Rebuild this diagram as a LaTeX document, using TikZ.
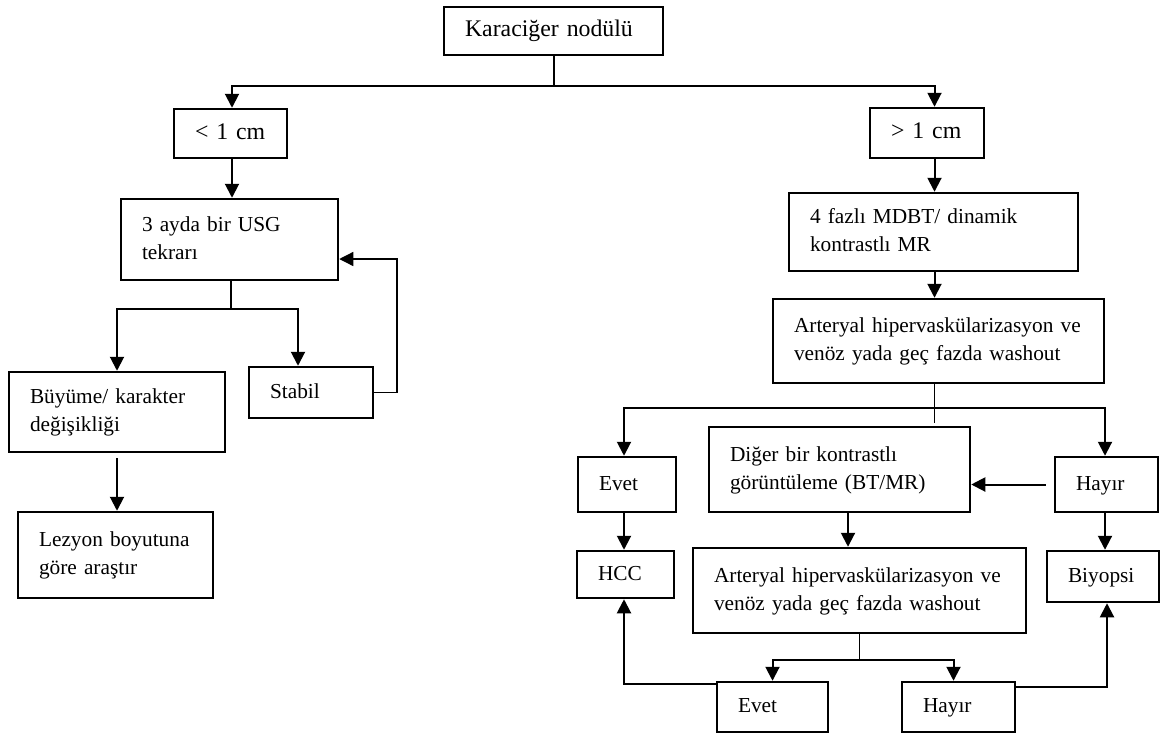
\documentclass[tikz,border=0pt]{standalone}
\usepackage{fontspec}
\setmainfont{Liberation Serif}
\usetikzlibrary{arrows.meta,positioning,calc}
\newdimen\pxu
\pxu=0.75pt
\tikzset{
	box/.style={draw, rectangle, line width=2.5\pxu, inner xsep=21\pxu, inner ysep=0pt,
		align=left, font=\fontsize{16pt}{21pt}\selectfont,
		execute at begin node=\strut, execute at end node=\strut},
	bigbox/.style={box, font=\fontsize{17.85pt}{21pt}\selectfont},
	arr/.style={-{Triangle[width=10.5pt,length=10.5pt]}, line width=2\pxu},
	link/.style={line width=1.3\pxu}
}

\begin{document}
\begin{tikzpicture}[x=0.75pt,y=-0.75pt]
	\useasboundingbox (0,0) rectangle (1162,736);
	\node[bigbox, text width=177\pxu, minimum height=48\pxu] (nodul) at (553.5,31) {Karaciğer nodülü};
	\node[bigbox, text width=71\pxu, minimum height=49\pxu] (kucuk) at (230.5,133.5) {< 1 cm};
	\node[bigbox, text width=72\pxu, minimum height=50\pxu] (buyuk) at (927,133) {> 1 cm};
	\node[box, text width=175\pxu, minimum height=81\pxu] (usg) at (229.5,239.5) {3 ayda bir USG\\tekrarı};
	\node[box, text width=174\pxu, minimum height=80\pxu] (buyume) at (117,412) {Büyüme/ karakter\\değişikliği};
	\node[box, text width=82\pxu, minimum height=51\pxu] (stabil) at (311,392.5) {Stabil};
	\node[box, text width=153\pxu, minimum height=86\pxu] (lezyon) at (115.5,555) {Lezyon boyutuna\\göre araştır};
	\node[box, text width=247\pxu, minimum height=78\pxu] (mdbt) at (933.5,232) {4 fazlı MDBT/ dinamik\\kontrastlı MR};
	\node[box, text width=289\pxu, minimum height=84\pxu] (art1) at (938.5,341) {Arteryal hipervaskülarizasyon ve\\venöz yada geç fazda washout};
	\node[box, text width=56\pxu, minimum height=55\pxu] (evet1) at (627,484.5) {Evet};
	\node[box, text width=219\pxu, minimum height=85\pxu] (diger) at (839.5,469.5) {Diğer bir kontrastlı\\görüntüleme (BT/MR)};
	\node[box, text width=61\pxu, minimum height=55\pxu] (hayir1) at (1106.5,484.5) {Hayır};
	\node[box, text width=55\pxu, minimum height=47\pxu] (hcc) at (625.5,574.5) {HCC};
	\node[box, text width=291\pxu, minimum height=85\pxu] (art2) at (859.5,590.5) {Arteryal hipervaskülarizasyon ve\\venöz yada geç fazda washout};
	\node[box, text width=70\pxu, minimum height=51\pxu] (biyopsi) at (1103,576.5) {Biyopsi};
	\node[box, text width=69\pxu, minimum height=50\pxu] (evet2) at (772.5,707) {Evet};
	\node[box, text width=71\pxu, minimum height=50\pxu] (hayir2) at (958.5,707) {Hayır};

	\coordinate (axL) at (232,0);
	\coordinate (axR) at (934.5,0);
	\coordinate (axE) at (624,0);
	\coordinate (axH) at (1105,0);
	\coordinate (axD) at (848,0);
	\coordinate (split0) at (554,86);
	\coordinate (split1) at (231,309);
	\coordinate (split2) at (934.5,408);
	\coordinate (split3) at (859.5,660);
	\coordinate (stub) at (934.5,423);
	\coordinate (loop) at (397,259);

	\draw[link] (nodul.south -| split0) -- (split0);
	\draw[arr] (split0) -| (kucuk.north -| axL);
	\draw[arr] (split0) -| (buyuk.north -| axR);
	\draw[arr] (kucuk.south -| axL) -- (usg.north -| axL);
	\draw[arr] (buyuk.south -| axR) -- (mdbt.north -| axR);
	\draw[arr] (mdbt.south -| axR) -- (art1.north -| axR);

	\draw[link] (usg.south -| split1) -- (split1);
	\draw[arr] (split1) -| (buyume.north);
	\draw[arr] (split1) -| ([xshift=-13\pxu]stabil.north);
	\draw[arr, line width=1.3\pxu] (stabil.east) -| (loop) -- (usg.east |- loop);
	\draw[arr] ([yshift=-5\pxu]buyume.south) -- (lezyon.north -| buyume.south);

	\draw[link] (art1.south -| axR) -- (stub);
	\draw[arr] (split2) -| (evet1.north -| axE);
	\draw[arr] (split2) -| (hayir1.north -| axH);
	\draw[arr] (evet1.south -| axE) -- (hcc.north -| axE);
	\draw[arr] (hayir1.south -| axH) -- (biyopsi.north -| axH);
	\draw[arr] ([xshift=-8\pxu]hayir1.west) -- (diger.east |- hayir1.west);
	\draw[arr] (diger.south -| axD) -- (art2.north -| axD);

	\draw[link] (art2.south) -- (split3);
	\draw[arr] (split3) -| (evet2.north);
	\draw[arr] (split3) -| ([xshift=-5\pxu]hayir2.north);
	\draw[arr] ([yshift=-3\pxu]evet2.north west) -| (hcc.south -| axE);
	\draw[arr] ([yshift=-6\pxu]hayir2.north east) -| ([xshift=4\pxu]biyopsi.south);
\end{tikzpicture}
\end{document}
